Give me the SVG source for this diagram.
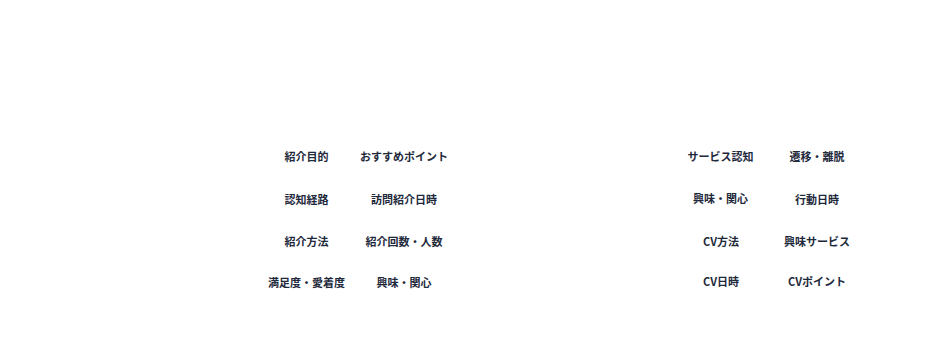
<svg xmlns="http://www.w3.org/2000/svg" width="929" height="364" viewBox="0 0 929 364">
<style>
text{font-family:"Noto Sans CJK JP","Noto Sans",sans-serif;font-size:11px;font-weight:700;fill:#1e293b;text-anchor:middle;dominant-baseline:central}
</style>
<rect width="929" height="364" fill="#ffffff"/>
<g id="nodes">
<g id="n1"><text x="306.5" y="156">紹介目的</text></g>
<g id="n2"><text x="404" y="156">おすすめポイント</text></g>
<g id="n3"><text x="306.5" y="198.5">認知経路</text></g>
<g id="n4"><text x="404" y="198.5">訪問紹介日時</text></g>
<g id="n5"><text x="306.5" y="241">紹介方法</text></g>
<g id="n6"><text x="404" y="241">紹介回数・人数</text></g>
<g id="n7"><text x="306.5" y="282">満足度・愛着度</text></g>
<g id="n8"><text x="404" y="282">興味・関心</text></g>
<g id="n9"><text x="720.5" y="156">サービス認知</text></g>
<g id="n10"><text x="817" y="156">遷移・離脱</text></g>
<g id="n11"><text x="720.5" y="198">興味・関心</text></g>
<g id="n12"><text x="817" y="198.5">行動日時</text></g>
<g id="n13"><text x="721" y="241">CV方法</text></g>
<g id="n14"><text x="817" y="241">興味サービス</text></g>
<g id="n15"><text x="721" y="281">CV日時</text></g>
<g id="n16"><text x="817" y="281">CVポイント</text></g>
</g>
<g id="connectors"></g>
</svg>
